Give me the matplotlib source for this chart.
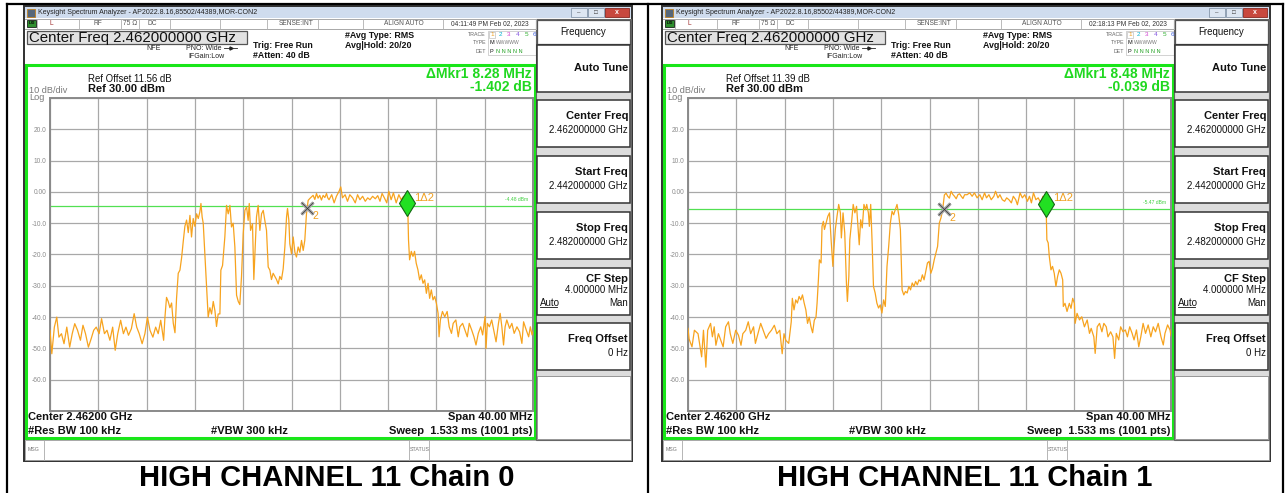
import matplotlib.pyplot as plt
from matplotlib.patches import Rectangle

plt.rcParams['font.family'] = ['Liberation Sans', 'DejaVu Sans']

# ---- trace data read off the two analyzer screens ----
# freq = offset from start freq 2.442 GHz, in MHz ; level in dBm
ch0_freq = [0, 0.15, 0.36, 0.56, 0.74, 0.95, 1.16, 1.39, 1.63, 1.84,
            2.05, 2.28, 2.52, 2.73, 2.94, 3.18, 3.41, 3.62, 3.83, 4.07,
            4.27, 4.51, 4.72, 4.96, 5.19, 5.4, 5.61, 5.85, 6.08, 6.29,
            6.5, 6.74, 6.97, 7.18, 7.39, 7.63, 7.86, 8.07, 8.28, 8.52,
            8.75, 8.96, 9.17, 9.41,
            9.52, 9.65, 9.79, 9.93, 10.07, 10.21, 10.35, 10.48, 10.62, 10.76,
            10.9, 11.03, 11.17, 11.31, 11.45, 11.59, 11.72, 11.86, 12.0, 12.14,
            12.28, 12.41, 12.5, 12.6, 12.69, 12.83, 12.97, 13.1, 13.24, 13.38,
            13.52, 13.66, 13.79, 13.93, 14.07, 14.15, 14.29, 14.48, 14.62, 14.76,
            14.9, 15.03, 15.17, 15.31, 15.45, 15.59, 15.72, 15.86, 16.0, 16.14,
            16.28, 16.41, 16.5, 16.61, 16.77, 16.88, 16.99, 17.1, 17.24, 17.38,
            17.52, 17.66, 17.79, 17.93, 18.07, 18.21, 18.34, 18.48, 18.62, 18.76,
            18.9, 19.03, 19.17, 19.31, 19.45, 19.59, 19.67, 19.78, 19.86, 20.0,
            20.14, 20.28, 20.41, 20.55, 20.69, 20.83, 20.97, 21.1, 21.24, 21.38,
            21.52, 21.66, 21.79, 21.93, 22.07, 22.2, 22.34, 22.48, 22.62, 22.76,
            22.9, 23.0,
            23.11, 23.33, 23.53, 23.72, 23.94, 24.08, 24.22, 24.44, 24.64, 24.83,
            25.06, 25.28, 25.47, 25.67, 25.89, 26.11, 26.31, 26.5, 26.72, 26.94,
            27.14, 27.33, 27.5, 27.69, 27.89, 28.06, 28.25, 28.44, 28.67, 28.89,
            29.08, 29.28, 29.44, 29.58, 29.64, 29.69, 29.78, 29.92, 30.06, 30.19,
            30.33, 30.47, 30.61, 30.75, 30.89, 31.03, 31.17, 31.31, 31.44, 31.58,
            31.72, 31.86, 32.0, 32.14, 32.22, 32.33, 32.5, 32.69, 32.89, 33.06,
            33.25, 33.39, 33.61, 33.81, 33.94, 34.17, 34.36, 34.56, 34.72, 34.92,
            35.11, 35.28, 35.47, 35.67, 35.83, 36.03, 36.11, 36.22, 36.39, 36.58,
            36.78, 36.94, 37.14, 37.28, 37.42, 37.56, 37.69, 37.83, 38.06, 38.25,
            38.44, 38.67, 38.89, 39.08, 39.22, 39.44, 39.64, 39.78, 39.92, 40.0]
ch0_level = [-44.2, -51.7, -43.2, -40.0, -46.4, -45.3, -48.5, -43.2, -49.6, -45.3,
             -42.1, -44.2, -47.4, -42.6, -45.3, -49.6, -46.9, -44.2, -43.2, -45.3,
             -40.5, -45.3, -44.2, -47.4, -43.2, -50.6, -45.3, -41.0, -45.3, -43.2,
             -45.8, -43.7, -38.9, -43.2, -45.3, -48.5, -45.3, -40.0, -44.2, -46.4,
             -43.2, -45.3, -41.0, -47.4,
             -40.0, -33.7, -35.0, -37.0, -35.5, -42.0, -45.0, -34.0, -26.0, -25.0,
             -21.0, -16.0, -11.0, -9.0, -13.0, -7.5, -14.4, -8.5, -11.0, -7.0,
             -8.5, -6.4, -3.7, -8.0, -10.0, -20.0, -30.5, -40.0, -37.0, -39.0,
             -35.0, -38.0, -43.0, -39.0, -39.0, -25.0, -23.5, -14.4, -4.3, -7.0,
             -4.3, -11.2, -10.0, -17.6, -33.0, -35.0, -36.0, -27.0, -13.4, -5.9,
             -4.8, -9.1, -3.7, -12.3, -10.2, -28.0, -17.6, -8.0, -4.3, -12.3,
             -7.0, -5.9, -9.1, -12.3, -24.0, -25.0, -28.0, -26.0, -27.0, -28.0,
             -29.4, -27.0, -28.0, -24.6, -17.6, -8.0, -5.3, -9.1, -16.6, -19.8,
             -14.4, -19.3, -20.8, -17.6, -19.3, -15.5, -18.7, -15.5, -7.0, -2.7,
             -2.1, -1.6, -1.1, -2.4, -0.5, -2.0, -1.1, -2.6, -1.1, -1.8,
             -0.5, -1.9,
             -2.5, -0.9, -3.5, -1.4, 0.2, 1.6, -1.9, -0.9, -3.0, -0.9,
             -1.9, -3.5, -0.9, -2.5, -1.4, -3.0, -1.9, -2.5, -1.4, -2.2,
             -1.2, -3.0, -0.5, -1.9, -3.5, 0.2, -2.5, -0.3, -3.5, -0.9,
             -2.5, -1.4, -3.3, -3.6, -6.7, -15.3, -21.7, -19.0, -20.6, -19.0,
             -22.8, -24.9, -28.1, -26.5, -29.2, -28.1, -32.4, -29.2, -34.0, -31.3,
             -34.5, -33.4, -35.6, -38.8, -46.3, -40.9, -38.2, -39.9, -38.2, -43.1,
             -45.2, -42.0, -40.9, -46.3, -43.1, -42.0, -44.1, -46.3, -42.0, -44.1,
             -46.3, -48.9, -45.2, -43.1, -45.7, -39.8, -50.0, -42.0, -43.1, -40.9,
             -44.7, -47.9, -42.0, -38.8, -43.1, -48.9, -43.1, -40.9, -43.6, -42.0,
             -45.2, -43.1, -44.7, -48.4, -41.5, -44.1, -46.3, -43.1, -45.7, -44.5]

ch1_freq = [0, 0.09, 0.33, 0.53, 0.83, 1.13, 1.28, 1.48, 1.63, 1.87,
            2.02, 2.17, 2.31, 2.52, 2.76, 2.91, 3.12, 3.35, 3.5, 3.71,
            3.95, 4.18, 4.39, 4.54, 4.78, 4.99, 5.19, 5.43, 5.58, 5.79,
            6.02, 6.23, 6.47, 6.68, 6.91, 7.15, 7.36, 7.6, 7.8, 7.95,
            8.1, 8.34, 8.55,
            8.64, 8.78, 8.92, 9.06, 9.2, 9.34, 9.48, 9.62, 9.76, 9.9,
            10.04, 10.18, 10.32, 10.46, 10.6, 10.69, 10.8, 10.88, 11.02, 11.1,
            11.21, 11.3, 11.44, 11.58, 11.72, 11.86, 12.0, 12.08, 12.2, 12.34,
            12.48, 12.62, 12.7, 12.84, 12.98, 13.12, 13.2, 13.32, 13.4, 13.54,
            13.68, 13.82, 13.96, 14.1, 14.18, 14.3, 14.43, 14.57, 14.71, 14.8,
            14.94, 15.02, 15.13, 15.24, 15.36, 15.5, 15.64, 15.78, 15.92, 16.06,
            16.2, 16.34, 16.48, 16.62, 16.76, 16.9, 17.03, 17.17, 17.31, 17.45,
            17.59, 17.73, 17.87, 18.01, 18.15, 18.29, 18.43, 18.57, 18.71, 18.85,
            18.99, 19.13, 19.27, 19.41, 19.55, 19.69, 19.83, 19.97, 20.11, 20.25,
            20.39, 20.53, 20.67, 20.81, 20.95, 21.09, 21.23,
            21.37, 21.51, 21.65, 21.79, 21.93, 22.07, 22.21, 22.35, 22.49, 22.63,
            22.77, 22.91,
            23.11, 23.33, 23.53, 23.72, 23.94, 24.17, 24.36, 24.56, 24.72, 24.92,
            25.11, 25.33, 25.47, 25.67, 25.83, 26.03, 26.22, 26.39, 26.58, 26.78,
            26.94, 27.14, 27.28, 27.5, 27.69, 27.89, 28.11, 28.28, 28.44, 28.61,
            28.81, 29.0, 29.22, 29.39, 29.5, 29.64, 29.67, 29.72, 29.83, 29.92,
            30.06, 30.19, 30.33, 30.47, 30.61, 30.75, 30.89, 31.03, 31.08, 31.22,
            31.39, 31.58, 31.72, 31.86, 32.0, 32.06, 32.22, 32.42, 32.61, 32.83,
            33.06, 33.25, 33.39, 33.61, 33.72, 33.89, 34.08, 34.28, 34.44, 34.64,
            34.78, 35.0, 35.19, 35.33, 35.47, 35.67, 35.83, 36.03, 36.22, 36.39,
            36.58, 36.78, 36.94, 37.14, 37.33, 37.5, 37.69, 37.89, 38.11, 38.33,
            38.53, 38.72, 38.94, 39.17, 39.36, 39.5, 39.72, 39.92, 40.0]
ch1_level = [-43.6, -47.0, -49.5, -44.2, -45.3, -52.7, -44.2, -56.0, -44.2, -42.0,
             -46.3, -43.1, -49.0, -45.3, -47.9, -49.5, -43.1, -41.5, -45.3, -48.4,
             -44.2, -45.8, -49.0, -45.3, -44.2, -41.5, -45.3, -43.1, -48.4, -45.3,
             -42.0, -44.2, -46.8, -45.3, -44.2, -42.6, -45.3, -44.2, -51.7, -45.3,
             -47.4, -48.4, -41.5,
             -34.0, -37.7, -34.5, -35.5, -33.4, -34.5, -32.9, -35.5, -37.7, -42.0,
             -40.0, -43.0, -45.0, -41.0, -40.0, -35.5, -28.0, -21.7, -22.7, -11.0,
             -9.4, -12.0, -9.9, -7.8, -6.7, -15.8, -23.8, -18.5, -12.0, -7.8,
             -4.0, -6.7, -14.7, -6.7, -13.1, -29.1, -35.0, -27.0, -15.3, -9.9,
             -4.0, -6.7, -4.6, -12.6, -16.9, -8.9, -11.5, -4.0, -5.7, -4.0,
             -6.7, -11.0, -4.0, -15.3, -30.2, -32.3, -35.5, -37.1, -36.1, -38.7,
             -34.5, -36.6, -23.8, -17.4, -9.9, -6.2, -7.3, -5.7, -4.0, -7.3,
             -12.1, -31.3, -32.9, -31.8, -32.3, -30.2, -31.3, -29.1, -30.2, -28.6,
             -29.7, -28.1, -28.6, -26.5, -28.1, -25.4, -22.7, -22.2, -26.0, -24.4,
             -21.7, -19.5, -17.4, -10.0, -8.3, -5.7, -1.0,
             -0.4, -1.4, -2.0, 0.2, -0.8, -1.4, -2.2, -0.9, -0.6, -1.4,
             -2.1, -0.9,
             -0.9, -0.3, -1.4, -0.3, -1.9, -0.9, -2.5, -0.3, -1.9, -0.9,
             -2.5, -1.4, 0.2, -1.9, -0.9, -2.5, -3.0, -1.9, -2.5, -3.5,
             -1.4, -2.5, -4.1, -0.3, -1.9, -0.9, -3.0, -1.4, -3.5, -0.3,
             -2.5, -1.9, -3.5, -1.4, -3.0, -3.7, -6.7, -15.3, -16.3, -20.6,
             -24.9, -23.8, -26.0, -30.2, -27.0, -24.9, -26.0, -28.1, -36.6, -35.6,
             -38.2, -35.6, -37.2, -34.0, -35.6, -42.0, -38.8, -40.9, -39.9, -43.1,
             -40.9, -45.2, -43.6, -46.3, -51.6, -43.1, -42.0, -44.7, -42.0, -43.1,
             -46.3, -44.7, -46.3, -53.2, -45.2, -47.3, -43.1, -44.7, -44.1, -46.3,
             -43.1, -45.2, -47.3, -44.1, -49.5, -46.3, -42.0, -45.2, -42.5, -46.3,
             -43.1, -44.7, -42.0, -46.3, -48.9, -45.2, -42.5, -44.1, -46.0]

traces = [(ch0_freq, ch0_level), (ch1_freq, ch1_level)]

ytick_vals = [-70, -60, -50, -40, -30, -20, -10, 0, 10, 20, 30]
ytick_labels = ['', '-60.0', '-50.0', '-40.0', '-30.0', '-20.0', '-10.0', '0.00', '10.0', '20.0', '']
xtick_vals = [0, 4, 8, 12, 16, 20, 24, 28, 32, 36, 40]

captions = ['HIGH CHANNEL 11 Chain 0', 'HIGH CHANNEL 11 Chain 1']
ref_offsets = ['Ref Offset 11.56 dB', 'Ref Offset 11.39 dB']
delta_freq = ['\u0394Mkr1 8.28 MHz', '\u0394Mkr1 8.48 MHz']
delta_level = ['-1.402 dB', '-0.039 dB']
timestamps = ['04:11:49 PM Feb 02, 2023', '02:18:13 PM Feb 02, 2023']
display_line = [-4.48, -5.47]
mkr2_pos = [(21.3, -5.0), (21.2, -5.6)]
mkr1_pos = [(29.55, -3.6), (29.66, -3.8)]

softkey_labels = ['Auto Tune', 'Center Freq', 'Start Freq', 'Stop Freq', 'CF Step', 'Freq Offset']
softkey_values = ['', '2.462000000 GHz', '2.442000000 GHz', '2.482000000 GHz', '4.000000 MHz', '0 Hz']
softkey_tops = [45, 100, 156, 212, 268, 323]

W, H = 1285, 493
fig = plt.figure(figsize=(W / 100, H / 100), dpi=100)
bg = fig.add_axes([0, 0, 1, 1])
bg.set_xlim(0, W)
bg.set_ylim(H, 0)
bg.axis('off')

# word-table lines round the two screenshots
for xl in [7, 648, 1283]:
    bg.plot([xl, xl], [4, H], color='black', lw=1.6)
bg.plot([7, 1283], [4, 4], color='black', lw=1.6)

trace_colors = ['#f0a020', '#00b0d0', '#d040d0', '#8050e0', '#30b030', '#4060e0']

for i in range(2):
    dx = [0, 638][i]

    def R(x, y, w, h, **kw):
        bg.add_patch(Rectangle((x + dx, y), w, h, **kw))

    def T(x, y, s, **kw):
        kw.setdefault('va', 'center')
        bg.text(x + dx, y, s, **kw)

    def L(xs, ys, **kw):
        bg.plot([v + dx for v in xs], ys, **kw)

    # window frame + title bar
    R(24, 6, 608, 455, fc='white', ec='#303030', lw=1.4)
    R(25, 7, 606, 11, fc='#cfdcee', ec='none')
    R(27, 8.5, 8, 8, fc='#56677a', ec='#c08020', lw=0.6)
    T(38, 12.5, 'Keysight Spectrum Analyzer - AP2022.8.16,85502/44389,MOR-CON2',
      fontsize=5, color='#222222')
    R(571, 8, 16, 9, fc='#dde6f2', ec='#8797ab', lw=0.6)
    R(588, 8, 16, 9, fc='#dde6f2', ec='#8797ab', lw=0.6)
    R(605, 8, 24, 9, fc='#c8483e', ec='#8a2a22', lw=0.6)
    T(579, 12.5, '\u2013', fontsize=4.5, ha='center', color='#333333')
    T(596, 12.5, '\u25a1', fontsize=4.5, ha='center', color='#333333')
    T(617, 12.5, 'x', fontsize=5, ha='center', color='white', weight='bold')

    # status row
    L([25, 536], [18.5, 18.5], color='#9a9a9a', lw=0.6)
    L([25, 536], [28.5, 28.5], color='#9a9a9a', lw=0.6)
    for sx in [37, 79, 121, 139, 170, 220, 267, 318, 363, 443, 536]:
        L([sx, sx], [18.5, 28.5], color='#b0b0b0', lw=0.6)
    R(27, 19.7, 9, 7.6, fc='#2f8f2f', ec='black', lw=0.5)
    T(31.5, 23.5, 'LXI', fontsize=3, ha='center', color='black', weight='bold')
    st = dict(fontsize=4.8, color='#555555')
    T(50, 23.7, 'L', fontsize=4.8, color='#a03030')
    T(98, 23.7, 'RF', ha='center', **st)
    T(130, 23.7, '75 \u03a9', ha='center', **st)
    T(152, 23.7, 'DC', ha='center', **st)
    T(296, 23.7, 'SENSE:INT', ha='center', **st)
    T(404, 23.7, 'ALIGN AUTO', ha='center', **st)
    T(490, 23.7, timestamps[i], ha='center', fontsize=4.8, color='#333333')

    # measurement header
    R(26.5, 31, 220, 13, fc='#e2e2e2', ec='#555555', lw=0.9)
    T(29, 37.8, 'Center Freq 2.462000000 GHz', fontsize=10.8, color='#111111')
    T(146, 48, 'NFE', fontsize=5, color='#222222')
    T(186, 48, 'PNO: Wide', fontsize=5, color='#222222')
    L([224, 237], [48, 48], color='#222222', lw=0.6)
    bg.plot([230.5 + dx], [48], marker='>', ms=2.2, color='#222222')
    T(188, 57, 'IFGain:Low', fontsize=5, color='#222222')
    T(253, 45.5, 'Trig: Free Run', fontsize=6.3, weight='bold', color='#111111')
    T(253, 56, '#Atten: 40 dB', fontsize=6.3, weight='bold', color='#111111')
    T(345, 35, '#Avg Type: RMS', fontsize=6.4, weight='bold', color='#111111')
    T(345, 45, 'Avg|Hold: 20/20', fontsize=6.4, weight='bold', color='#111111')
    T(486, 34.5, 'TRACE', fontsize=3.8, ha='right', color='#666666')
    T(486, 43, 'TYPE', fontsize=3.8, ha='right', color='#666666')
    T(486, 51.5, 'DET', fontsize=3.8, ha='right', color='#666666')
    R(488, 31, 48, 24, fc='none', ec='#c0c0c0', lw=0.5)
    R(488.5, 31.5, 6.5, 6, fc='none', ec='#c0c0c0', lw=0.5)
    for k in range(6):
        T(490 + 8.6 * k, 34.5, str(k + 1), fontsize=4.6, color=trace_colors[k])
    T(490, 43, 'M', fontsize=4, color='#111111')
    T(496, 43, 'WWWWW', fontsize=3.6, color='#777777')
    T(490, 51.5, 'P', fontsize=4, color='#111111')
    T(496, 51.5, 'N N N N N', fontsize=4, color='#20a020')

    # graticule frame + annotations
    R(26, 65, 509, 373, fc='none', ec='#19e619', lw=2.2)
    T(88, 79, ref_offsets[i], fontsize=6.9, color='#111111')
    T(88, 89.5, 'Ref 30.00 dBm', fontsize=8, weight='bold', color='#111111')
    T(29, 90.5, '10 dB/div', fontsize=6.6, color='#7a7a7a')
    T(29, 97.5, 'Log', fontsize=6.6, color='#7a7a7a')
    T(532, 73.5, delta_freq[i], ha='right', fontsize=10, weight='bold', color='#1fd81f')
    T(532, 87, delta_level[i], ha='right', fontsize=10, weight='bold', color='#1fd81f')
    bt = dict(fontsize=8, weight='bold', color='#111111')
    T(28, 417.5, 'Center 2.46200 GHz', **bt)
    T(532, 417.5, 'Span 40.00 MHz', ha='right', **bt)
    T(28, 430.5, '#Res BW 100 kHz', **bt)
    T(211, 430.5, '#VBW 300 kHz', **bt)
    T(532, 430.5, 'Sweep  1.533 ms (1001 pts)', ha='right', **bt)

    # message row
    R(25, 440, 606, 20, fc='white', ec='#999999', lw=0.6)
    for sx in [44, 409, 429]:
        L([sx, sx], [440, 460], color='#aaaaaa', lw=0.6)
    T(28, 449.5, 'MSG', fontsize=3.8, color='#777777')
    T(410, 449.5, 'STATUS', fontsize=3.8, color='#777777')

    # softkey column
    R(536, 19, 95, 421, fc='#dcdcdc', ec='#666666', lw=0.8)
    R(537, 20, 93, 24, fc='white', ec='#555555', lw=0.9)
    T(583, 32, 'Frequency', ha='center', fontsize=7, color='#111111')
    for k, top in enumerate(softkey_tops):
        R(537, top, 93, 47, fc='white', ec='#333333', lw=1.1)
        if softkey_values[k] == '':
            T(628, top + 23, softkey_labels[k], ha='right', fontsize=8, weight='bold', color='#111111')
        elif softkey_labels[k] == 'CF Step':
            T(628, top + 11, softkey_labels[k], ha='right', fontsize=8, weight='bold', color='#111111')
            T(628, top + 22, softkey_values[k], ha='right', fontsize=7, color='#111111')
        else:
            T(628, top + 16, softkey_labels[k], ha='right', fontsize=8, weight='bold', color='#111111')
            T(628, top + 30, softkey_values[k], ha='right', fontsize=7, color='#111111')
    T(540, 302.5, 'Auto', fontsize=7, color='#111111')
    L([540, 557], [307, 307], color='#111111', lw=0.6)
    T(628, 302.5, 'Man', ha='right', fontsize=7, color='#111111')
    R(537, 376, 93, 63, fc='white', ec='#888888', lw=0.6)

    # caption under the screenshot
    T(327, 478, captions[i], ha='center', fontsize=21, weight='bold',
      color='black', family=['Liberation Sans Narrow', 'Liberation Sans'])

    # spectrum graticule
    x0, x1 = 50 + dx, 533 + dx
    y0, y1 = 98, 411
    ax = fig.add_axes([x0 / W, 1 - y1 / H, (x1 - x0) / W, (y1 - y0) / H])
    ax.set_zorder(3)
    freq, level = traces[i]
    ax.plot(freq, level, color='#f7a31e', lw=0.9, zorder=3)
    ax.axhline(display_line[i], color='#52e052', lw=0.9, zorder=2)
    ax.text(39.6, display_line[i] + 1.2, '%.2f dBm' % display_line[i], ha='right',
            va='bottom', fontsize=3.6, color='#40d040')
    mx, my = mkr2_pos[i]
    ax.plot([mx], [my], marker='x', ms=9, mew=2.4, color='#a8a8a8', zorder=5)
    ax.plot([mx], [my], marker='x', ms=9, mew=0.5, color='#333333', zorder=6)
    ax.annotate('2', (mx, my), xytext=(4, -6), textcoords='offset points',
                fontsize=7.5, color='#f0a020', va='center')
    mx, my = mkr1_pos[i]
    ax.plot([mx], [my], marker='d', ms=13, mfc='#22e022', mec='#126612', mew=0.8, zorder=6)
    ax.annotate('1\u03942', (mx, my), xytext=(5, 4), textcoords='offset points',
                fontsize=8, color='#f0a020', va='center')
    ax.set_xlim(0, 40)
    ax.set_ylim(-70, 30)
    ax.set_xticks(xtick_vals)
    ax.set_yticks(ytick_vals, ytick_labels)
    ax.grid(color='#a8a8a8', lw=0.9)
    ax.tick_params(length=0, labelbottom=False, labelsize=4.8, labelcolor='#8c8c8c', pad=2.5)
    for sp in ax.spines.values():
        sp.set_color('#8a8a8a')
        sp.set_linewidth(1.4)

fig.savefig('out.png', dpi=100)
